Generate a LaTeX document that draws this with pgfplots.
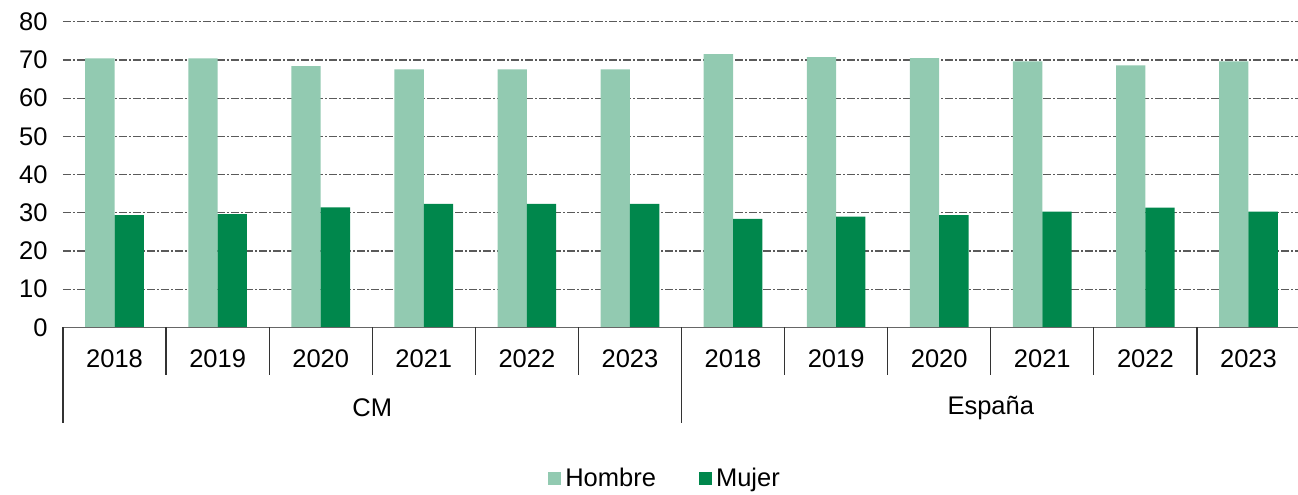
\documentclass[border=0pt]{standalone}
\usepackage{fontspec}
\setmainfont{Liberation Sans}
\usepackage{pgfplots}
\pgfplotsset{compat=1.18}

\definecolor{hombre}{RGB}{146,202,177}
\definecolor{mujer}{RGB}{0,135,76}
\definecolor{gridc}{RGB}{90,90,90}

\begin{document}
\fontsize{12.75}{15.3}\selectfont
\begin{tikzpicture}
% fixed page: 1 px of the reference = 0.5pt
\path[use as bounding box] (-31.5pt,-83.35pt) rectangle (617.5pt,163.65pt);
\begin{axis}[
    at={(0pt,0pt)}, anchor=south west,
    scale only axis,
    width=618.5pt, height=152.8pt,
    xmin=-0.5, xmax=11.5,
    ymin=0, ymax=80,
    ytick={0,10,...,80},
    xtick={0,...,11},
    xticklabels={2018,2019,2020,2021,2022,2023,2018,2019,2020,2021,2022,2023},
    xticklabel style={anchor=center, inner sep=0pt, yshift=-15.85pt},
    yticklabel style={anchor=east, inner sep=0pt, xshift=-7.5pt},
    /pgf/number format/assume math mode=true,
    major tick length=0pt,
    axis line style={draw=none},
    ymajorgrids,
    major grid style={gridc, line width=0.6pt,
        dash pattern=on 4pt off 1pt on 1pt off 1pt},
    ybar=0pt,
    bar width=14.65pt,
    clip=false,
    legend columns=2,
    legend style={draw=none, inner sep=0pt, at={(0.4875,-0.496)}, anchor=center,
        /tikz/every even column/.append style={column sep=19.5pt}},
    legend cell align=left,
    legend image code/.code={\fill[#1] (0pt,-3.25pt) rectangle (6.5pt,3.25pt);},
]
\addplot[fill=hombre, draw=none] coordinates {
    (0,70.4) (1,70.4) (2,68.4) (3,67.5) (4,67.5) (5,67.5)
    (6,71.5) (7,70.7) (8,70.5) (9,69.6) (10,68.6) (11,69.6)
};
\addplot[fill=mujer, draw=none] coordinates {
    (0,29.4) (1,29.6) (2,31.4) (3,32.3) (4,32.3) (5,32.3)
    (6,28.4) (7,29.0) (8,29.4) (9,30.3) (10,31.3) (11,30.3)
};
\legend{Hombre, Mujer}

% baseline and category separators
\draw[gray!80!black, line width=0.7pt] (axis cs:-0.5,0) -- (axis cs:11.5,0);
\pgfplotsinvokeforeach{0.5,1.5,2.5,3.5,4.5,6.5,7.5,8.5,9.5,10.5}{
    \draw[black!80, line width=0.6pt] (axis cs:#1,0) -- ++(0pt,-23.85pt);
}
\pgfplotsinvokeforeach{-0.5,5.5}{
    \draw[black!80, line width=0.6pt] (axis cs:#1,0) -- ++(0pt,-47.85pt);
}
\node at (axis cs:2.5,0) [yshift=-40.35pt] {CM};
\node at (axis cs:8.5,0) [yshift=-40.35pt] {España};
\end{axis}
\end{tikzpicture}
\end{document}
